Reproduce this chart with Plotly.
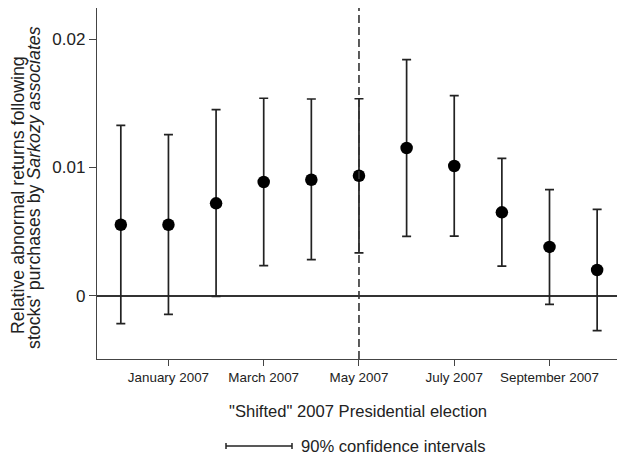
import plotly.graph_objects as go

months = ["Dec 2006", "Jan 2007", "Feb 2007", "Mar 2007", "Apr 2007", "May 2007",
          "Jun 2007", "Jul 2007", "Aug 2007", "Sep 2007", "Oct 2007"]
x_pos = list(range(1, 12))
estimate = [0.00553, 0.00553, 0.0072, 0.00886, 0.00904, 0.00935, 0.01151, 0.01011, 0.0065, 0.0038, 0.0020]
ci_upper = [0.01328, 0.01255, 0.0145, 0.01539, 0.01533, 0.01535, 0.0184, 0.01559, 0.01071, 0.00826, 0.00673]
ci_lower = [-0.00218, -0.00145, -0.00005, 0.00234, 0.00281, 0.00333, 0.00463, 0.00465, 0.00231, -0.00067, -0.00273]
tick_vals = [2, 4, 6, 8, 10]
tick_text = ["January 2007", "March 2007", "May 2007", "July 2007", "September 2007"]
election_x = 6

err_plus = [u - e for u, e in zip(ci_upper, estimate)]
err_minus = [e - l for e, l in zip(estimate, ci_lower)]

FONT = "Liberation Sans, Arial, sans-serif"
INK = "#222222"

# plot-area geometry in page pixels (page has an 8px body margin)
PL, PR_W, PB, PH = 97, 528, 359, 351
def px(x):
    return (x - PL) / PR_W
def py(y):
    return (PB - y) / PH

fig = go.Figure()
fig.add_trace(go.Scatter(
    x=x_pos, y=estimate, mode="markers",
    marker=dict(size=12.5, color="black"),
    error_y=dict(type="data", symmetric=False, array=err_plus, arrayminus=err_minus,
                 color=INK, thickness=1.7, width=4.5),
    showlegend=False, hoverinfo="skip",
))

fig.add_shape(type="line", xref="x", yref="paper", x0=election_x, x1=election_x, y0=0, y1=1,
              line=dict(color="#333333", width=1.6, dash="8px,4px"))

# legend-like key
lx0, lx1, ly = px(226), px(292), py(446)
fig.add_shape(type="line", xref="paper", yref="paper", x0=lx0, x1=lx1, y0=ly, y1=ly,
              line=dict(color=INK, width=1.5))
for xx in (lx0, lx1):
    fig.add_shape(type="line", xref="paper", yref="paper", x0=xx, x1=xx, y0=ly - 3 / PH, y1=ly + 3 / PH,
                  line=dict(color=INK, width=1.5))
fig.add_annotation(xref="paper", yref="paper", x=px(299), y=ly, xanchor="left", yanchor="middle",
                   text="90% confidence intervals", showarrow=False,
                   font=dict(family=FONT, size=16.6, color=INK))

fig.add_annotation(xref="paper", yref="paper", x=px(358), y=py(411),
                   xanchor="center", yanchor="middle",
                   text='"Shifted" 2007 Presidential election', showarrow=False,
                   font=dict(family=FONT, size=16.6, color=INK))

fig.add_annotation(xref="paper", yref="paper", x=px(18), y=py(195),
                   xanchor="center", yanchor="middle", textangle=-90,
                   text="Relative abnormal returns following",
                   showarrow=False, font=dict(family=FONT, size=17.8, color=INK))
fig.add_annotation(xref="paper", yref="paper", x=px(33.5), y=py(187.5),
                   xanchor="center", yanchor="middle", textangle=-90,
                   text="stocks' purchases by <i>Sarkozy associates</i>",
                   showarrow=False, font=dict(family=FONT, size=17.8, color=INK))

fig.update_layout(
    width=617, height=452,
    margin=dict(l=89, r=0, t=0, b=101),
    plot_bgcolor="white", paper_bgcolor="white",
    font=dict(family=FONT, color=INK),
    xaxis=dict(range=[0.5, 11.585], tickvals=tick_vals, ticktext=tick_text,
               showgrid=False, zeroline=False, showline=True, linecolor="#444444", linewidth=1.3,
               ticks="outside", ticklen=6, tickcolor="#444444", tickwidth=1.2,
               tickfont=dict(family=FONT, size=13.4, color=INK)),
    yaxis=dict(range=[-0.004934, 0.022424], tickvals=[0, 0.01, 0.02], ticktext=["0", "0.01", "0.02"],
               showgrid=False, zeroline=True, zerolinecolor="#333333", zerolinewidth=1.6,
               showline=True, linecolor="#444444", linewidth=1.3,
               ticks="outside", ticklen=7, tickcolor="#444444", tickwidth=1.2,
               tickfont=dict(family=FONT, size=17, color=INK)),
)

fig.write_html("out.html")
